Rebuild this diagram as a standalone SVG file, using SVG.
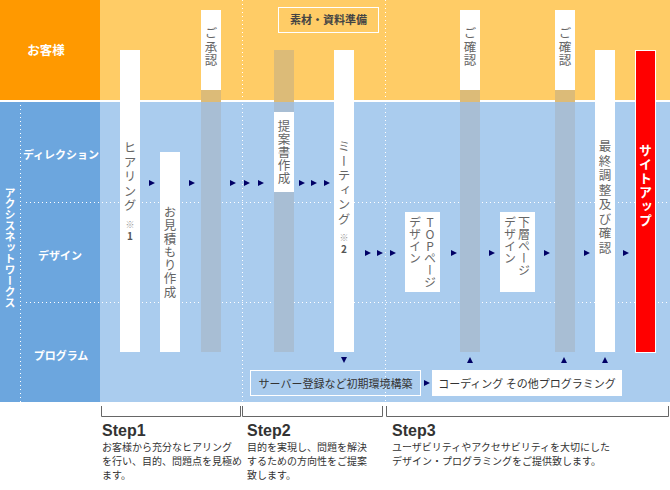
<svg xmlns="http://www.w3.org/2000/svg" xmlns:xlink="http://www.w3.org/1999/xlink" width="670" height="490" viewBox="0 0 670 490">
<defs>
<style>
text{font-family:"Noto Sans CJK JP","Liberation Sans",sans-serif;}
.v{writing-mode:vertical-rl;text-orientation:upright;}
.bt{font-size:12.5px;fill:#666;}
.lbl{font-size:11px;font-weight:bold;fill:#fff;text-anchor:middle;}
.dot{stroke:#fff;stroke-width:1;stroke-dasharray:1 3;fill:none;}
.wb{fill:#fff;}
.gb{fill:#a8bed4;}
.go{fill:#dcbb78;}
.br{stroke:#666;stroke-width:1;fill:none;}
.st{font-family:"Liberation Sans","Noto Sans CJK JP",sans-serif;font-size:16px;font-weight:bold;fill:#333;}
.ds{font-size:10px;fill:#333;}
.bx{font-size:11px;fill:#333;text-anchor:middle;}
</style>
<path id="ar" d="M0,-3 L6,0 L0,3 Z" fill="#000066"/>
<path id="ad" d="M-3,0 L3,0 L0,6 Z" fill="#000066"/>
<path id="au" d="M-3,6 L3,6 L0,0 Z" fill="#000066"/>
</defs>

<g id="background">
<rect x="0" y="0" width="100" height="100" fill="#ff9900"/>
<rect x="100" y="0" width="570" height="100" fill="#ffcc66"/>
<rect x="0" y="100" width="670" height="2" fill="#fff"/>
<rect x="0" y="102" width="100" height="300" fill="#6ca6de"/>
<rect x="100" y="102" width="570" height="300" fill="#aaccee"/>
<line class="dot" x1="20.5" y1="105" x2="20.5" y2="402"/>
<line class="dot" x1="26" y1="202.5" x2="670" y2="202.5"/>
<line class="dot" x1="26" y1="302.5" x2="670" y2="302.5"/>
<line class="dot" x1="242.5" y1="0" x2="242.5" y2="402"/>
<line class="dot" x1="385.5" y1="0" x2="385.5" y2="402"/>
</g>

<g id="labels">
<text x="46" y="55" class="lbl" style="font-size:12.5px">お客様</text>
<text x="10" y="187" class="lbl v" style="font-size:11px;text-anchor:start">アクシスネットワークス</text>
<text x="61" y="159" class="lbl">ディレクション</text>
<text x="60" y="259.5" class="lbl">デザイン</text>
<text x="61" y="360" class="lbl">プログラム</text>
</g>

<g id="node-hearing">
<rect class="wb" x="120" y="50" width="20" height="302"/>
<text class="bt v" x="130" y="141" style="letter-spacing:2px">ヒアリング<tspan font-size="9" fill="#999" dy="6">※</tspan><tspan font-size="10" font-weight="bold" fill="#555">1</tspan></text>
</g>
<g id="node-estimate">
<rect class="wb" x="160" y="152" width="20" height="200"/>
<text class="bt v" x="170" y="206" style="letter-spacing:0.8px">お見積もり作成</text>
</g>
<g id="node-approval">
<rect class="wb" x="201" y="10" width="20" height="80"/>
<rect class="go" x="201" y="90" width="20" height="10"/>
<rect class="gb" x="201" y="102" width="20" height="250"/>
<rect class="go" x="201" y="100" width="20" height="2"/>
<text class="bt v" x="211" y="27" style="letter-spacing:1px">ご承認</text>
</g>
<g id="node-proposal">
<rect class="go" x="274" y="50" width="20" height="52"/>
<rect class="gb" x="274" y="102" width="20" height="10"/>
<rect class="wb" x="274" y="112" width="20" height="80"/>
<rect class="gb" x="274" y="192" width="20" height="160"/>
<text class="bt v" x="284" y="120" style="letter-spacing:0.5px">提案書作成</text>
</g>
<g id="node-meeting">
<rect class="wb" x="334" y="50" width="20" height="302"/>
<text class="bt v" x="344" y="140" style="letter-spacing:2px">ミーティング<tspan font-size="9" fill="#999" dy="6">※</tspan><tspan font-size="10" font-weight="bold" fill="#555">2</tspan></text>
</g>
<g id="node-material">
<rect x="278.5" y="7.5" width="100" height="25" fill="none" stroke="#fff" stroke-width="1"/>
<text x="328.5" y="24" class="bx" style="font-weight:bold;fill:#444">素材・資料準備</text>
</g>
<g id="node-top-design">
<rect class="wb" x="405" y="212" width="35" height="80"/>
<text class="bt v" x="430" y="216" style="font-size:12px">TOPページ</text>
<text class="bt v" x="415" y="216" style="font-size:12px">デザイン</text>
</g>
<g id="node-confirm1">
<rect class="wb" x="460" y="10" width="20" height="80"/>
<rect class="go" x="460" y="90" width="20" height="12"/>
<rect class="gb" x="460" y="102" width="20" height="250"/>
<text class="bt v" x="470" y="27" style="letter-spacing:1px">ご確認</text>
</g>
<g id="node-lower-design">
<rect class="wb" x="500" y="212" width="35" height="80"/>
<text class="bt v" x="524" y="216" style="font-size:12px">下層ページ</text>
<text class="bt v" x="510" y="216" style="font-size:12px">デザイン</text>
</g>
<g id="node-confirm2">
<rect class="wb" x="555" y="10" width="20" height="80"/>
<rect class="go" x="555" y="90" width="20" height="12"/>
<rect class="gb" x="555" y="102" width="20" height="250"/>
<text class="bt v" x="565" y="27" style="letter-spacing:1px">ご確認</text>
</g>
<g id="node-final">
<rect class="wb" x="595" y="50" width="20" height="302"/>
<text class="bt v" x="605" y="140" style="letter-spacing:2px">最終調整及び確認</text>
</g>
<g id="node-siteup">
<rect x="635.5" y="50.5" width="20" height="302" fill="#ff0000" stroke="#fff" stroke-width="1"/>
<text class="v" x="645.5" y="144" style="font-size:13px;font-weight:bold;fill:#fff;letter-spacing:1px">サイトアップ</text>
</g>
<g id="node-server">
<rect x="250.5" y="370.5" width="170" height="25" fill="none" stroke="#fff" stroke-width="1"/>
<text x="335.5" y="388" class="bx">サーバー登録など初期環境構築</text>
</g>
<g id="node-coding">
<rect x="432" y="370" width="190" height="26" fill="#fff"/>
<text x="527" y="388" class="bx">コーディング その他プログラミング</text>
</g>

<g id="connectors">
<use xlink:href="#ar" x="149" y="183"/>
<use xlink:href="#ar" x="189" y="183"/>
<use xlink:href="#ar" x="230" y="183"/>
<use xlink:href="#ar" x="244" y="183"/>
<use xlink:href="#ar" x="258" y="183"/>
<use xlink:href="#ar" x="299" y="183"/>
<use xlink:href="#ar" x="311" y="183"/>
<use xlink:href="#ar" x="324" y="183"/>
<use xlink:href="#ar" x="365" y="253"/>
<use xlink:href="#ar" x="377" y="253"/>
<use xlink:href="#ar" x="390" y="253"/>
<use xlink:href="#ar" x="451" y="253"/>
<use xlink:href="#ar" x="489" y="253"/>
<use xlink:href="#ar" x="544" y="253"/>
<use xlink:href="#ar" x="584" y="253"/>
<use xlink:href="#ar" x="623" y="253"/>
<use xlink:href="#ad" x="344" y="357"/>
<use xlink:href="#au" x="470" y="357"/>
<use xlink:href="#au" x="564" y="357"/>
<use xlink:href="#au" x="605" y="357"/>
<use xlink:href="#ar" x="424" y="383"/>
</g>

<g id="steps">
<path class="br" d="M101.5,406 V416.5 H240.5 V406"/>
<path class="br" d="M242.5,406 V416.5 H382.5 V406"/>
<path class="br" d="M386.5,406 V416.5 H668.5 V406"/>
<text class="st" x="102" y="436">Step1</text>
<text class="ds" x="102" y="451">お客様から充分なヒアリング</text>
<text class="ds" x="102" y="465">を行い、目的、問題点を見極め</text>
<text class="ds" x="102" y="479">ます。</text>
<text class="st" x="247" y="436">Step2</text>
<text class="ds" x="247" y="451">目的を実現し、問題を解決</text>
<text class="ds" x="247" y="465">するための方向性をご提案</text>
<text class="ds" x="247" y="479">致します。</text>
<text class="st" x="392" y="436">Step3</text>
<text class="ds" x="392" y="451">ユーザビリティやアクセサビリティを大切にした</text>
<text class="ds" x="392" y="465">デザイン・プログラミングをご提供致します。</text>
</g>
</svg>
